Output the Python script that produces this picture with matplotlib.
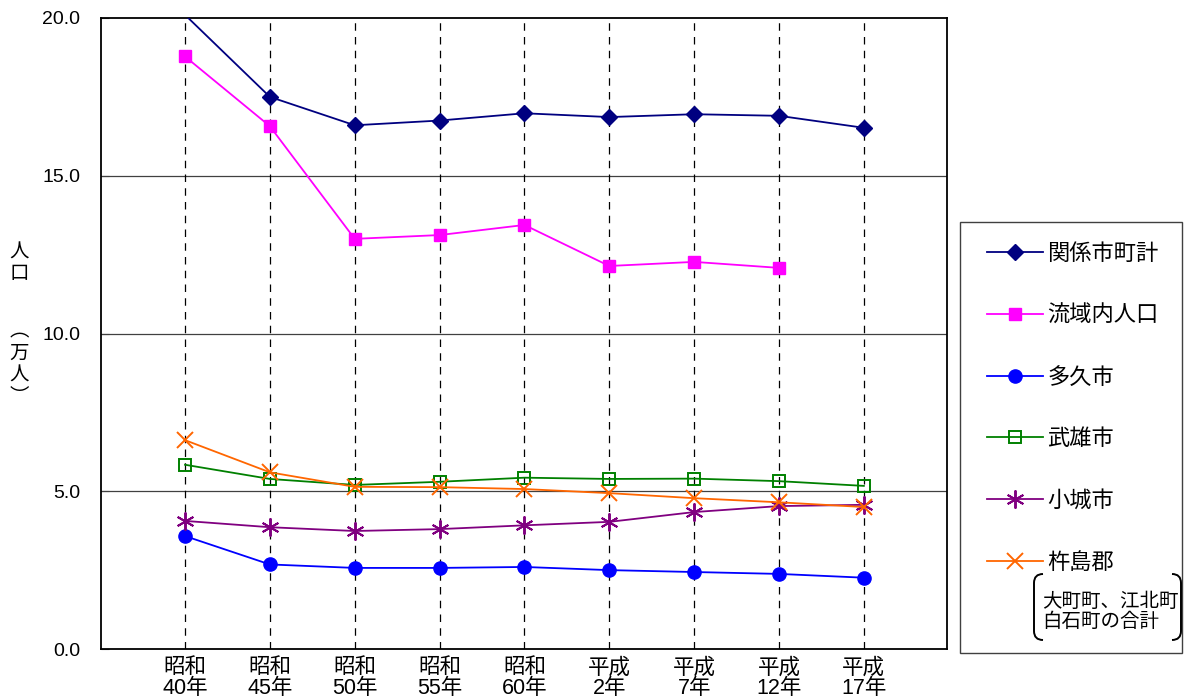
import matplotlib
matplotlib.use("Agg")
import matplotlib.pyplot as plt
from matplotlib.patches import Rectangle, PathPatch
from matplotlib.path import Path

plt.rcParams['font.family'] = ['Liberation Sans', 'Noto Sans CJK JP', 'DejaVu Sans']

categories = ["昭和\n40年", "昭和\n45年", "昭和\n50年", "昭和\n55年", "昭和\n60年",
              "平成\n2年", "平成\n7年", "平成\n12年", "平成\n17年"]
kankei = [20.1, 17.5, 16.6, 16.75, 16.98, 16.86, 16.95, 16.9, 16.52]
ryuiki = [18.78, 16.57, 13.0, 13.12, 13.44, 12.14, 12.27, 12.08]
taku = [3.58, 2.68, 2.57, 2.57, 2.6, 2.5, 2.44, 2.38, 2.26]
takeo = [5.84, 5.39, 5.2, 5.3, 5.43, 5.39, 5.4, 5.32, 5.17]
ogi = [4.06, 3.86, 3.74, 3.8, 3.92, 4.03, 4.34, 4.53, 4.57]
kishima = [6.62, 5.6, 5.14, 5.13, 5.07, 4.94, 4.78, 4.65, 4.5]
series_names = ["関係市町計", "流域内人口", "多久市", "武雄市", "小城市", "杵島郡"]
note = "大町町、江北町\n白石町の合計"

W, H = 1185, 698
fig = plt.figure(figsize=(W / 100, H / 100), dpi=100)
ax = fig.add_axes([101 / W, 1 - 649 / H, (947 - 101) / W, (649 - 18) / H])

x = list(range(len(categories)))
lw = 1.3
ax.plot(x, kankei, color='#000080', marker='D', ms=8.5, lw=lw, markevery=list(range(1, len(x))),
        label=series_names[0], zorder=5)
ax.plot(x[:len(ryuiki)], ryuiki, color='#FF00FF', marker='s', ms=9, lw=lw, label=series_names[1], zorder=5)
ax.plot(x, taku, color='#0000FF', marker='o', ms=9.5, lw=lw, label=series_names[2], zorder=5)
ax.plot(x, takeo, color='#008000', marker='s', ms=8, mfc='none', mew=1.4, lw=lw, label=series_names[3], zorder=5)
ax.plot(x, ogi, color='#800080', marker=(6, 2, 0), ms=13, mew=1.4, lw=lw, label=series_names[4], zorder=5)
ax.plot(x, kishima, color='#FF6600', marker='x', ms=12, mew=1.4, lw=lw, label=series_names[5], zorder=5)

ax.set_xlim(-0.99, 8.98)
ax.set_ylim(0, 20)
ax.set_yticks([0, 5, 10, 15, 20])
ax.set_yticklabels([f"{v:.1f}" for v in [0, 5, 10, 15, 20]], fontsize=14)
ax.set_xticks(x)
ax.set_xticklabels(categories, fontsize=15.5, linespacing=1.0)
ax.tick_params(axis='x', length=0, pad=6)
ax.tick_params(axis='y', direction='in', length=6, pad=15, color='#404040')
for v in [5, 10, 15]:
    ax.axhline(v, color='#404040', lw=0.9, zorder=1)
for xi in x:
    ax.axvline(xi, color='black', lw=0.9, ls=(0, (6, 5)), zorder=1)
for s in ax.spines.values():
    s.set_linewidth(1.3)

# y label (vertical)
fig.text(19 / W, 1 - 264 / H, "人\n口", fontsize=14, ha='center', va='center', linespacing=1.3)
fig.text(19 / W, 1 - 365 / H, "︵\n万\n人\n︶", fontsize=14, ha='center', va='center', linespacing=1.38)

# legend
fig.patches.append(Rectangle((960 / W, 1 - 653 / H), (1182 - 960) / W, (653 - 222) / H,
                             transform=fig.transFigure, fill=False, ec='#404040', lw=1.0))
leg = ax.legend(loc='upper left', bbox_to_anchor=(987 / W, 1 - 244 / H),
                bbox_transform=fig.transFigure, frameon=False, fontsize=16,
                handlelength=2.5, handletextpad=0.22, labelspacing=1.83,
                borderpad=0, borderaxespad=0)
fig.text(1042 / W, 1 - 612 / H, note, fontsize=14, ha='left', va='center', linespacing=1.12)

def bracket(xe, xo, y0, y1, r):
    verts = [(xo, y0), (xe, y0), (xe, y0 + r), (xe, y1 - r), (xe, y1), (xo, y1)]
    codes = [Path.MOVETO, Path.CURVE3, Path.CURVE3, Path.LINETO, Path.CURVE3, Path.CURVE3]
    verts = [(a / W, 1 - b / H) for a, b in verts]
    return PathPatch(Path(verts, codes), transform=fig.transFigure, fill=False, lw=1.4, ec='black')

fig.patches.append(bracket(1034, 1043, 574, 640, 9))
fig.patches.append(bracket(1181, 1172, 574, 640, 9))

fig.savefig("out.png", dpi=100)
